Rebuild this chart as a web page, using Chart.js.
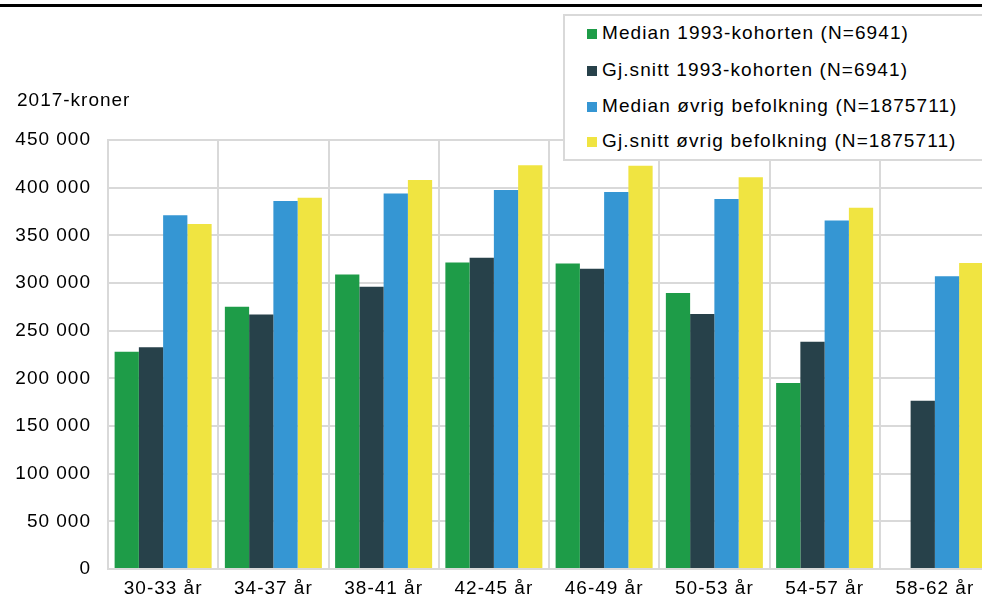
<!DOCTYPE html>
<html>
<head>
<meta charset="utf-8">
<script src="https://cdn.jsdelivr.net/npm/chart.js@4.4.0/dist/chart.umd.min.js"></script>
<style>
  html, body { margin: 0; padding: 0; background: #fff; overflow: hidden; }
  body { width: 982px; height: 607px; position: relative; font-family: "Liberation Sans", Arial, sans-serif; }
  #wrap { position: absolute; left: 0; top: 0; width: 1000px; height: 607px; }
  #topline { position: absolute; left: 0; top: 4px; width: 982px; height: 3px; background: #000; }
  #unit { position: absolute; left: 17px; top: 89px; font-size: 19px; color: #000; letter-spacing: 1px; }
  #legend { position: absolute; left: 563px; top: 14px; width: 440px; height: 143px;
            border: 2px solid #d9d9d9; background: #fff; }
  .item { position: absolute; left: 22px; height: 22px; line-height: 22px; font-size: 19px; color: #000;
          white-space: nowrap; letter-spacing: 1.1px; }
  .item span { display: inline-block; width: 10px; height: 10px; margin-right: 5px; vertical-align: 0px; }
</style>
</head>
<body>
<div id="wrap"><canvas id="plot" width="1000" height="607"></canvas></div>
<div id="topline"></div>
<div id="unit">2017-kroner</div>
<div id="legend"></div>
<script>
const categories = ['30-33 år', '34-37 år', '38-41 år', '42-45 år', '46-49 år', '50-53 år', '54-57 år', '58-62 år'];
const seriesNames = [
    'Median 1993-kohorten (N=6941)',
    'Gj.snitt 1993-kohorten (N=6941)',
    'Median øvrig befolkning (N=1875711)',
    'Gj.snitt øvrig befolkning (N=1875711)'
];
const medianKohort = [228000, 275000, 309000, 321500, 320500, 289500, 195000, null];
const snittKohort = [232500, 267000, 296000, 326500, 315000, 267500, 238500, 176500];
const medianOvrig = [371000, 386000, 394000, 397500, 395500, 388000, 365500, 307000];
const snittOvrig = [362000, 389500, 408000, 423500, 423000, 411000, 379000, 321000];
const colors = ['#1e9c48', '#27414a', '#3596d3', '#f0e441'];
const yTicks = [0, 50000, 100000, 150000, 200000, 250000, 300000, 350000, 400000, 450000];

const allSeries = [medianKohort, snittKohort, medianOvrig, snittOvrig];

// legend as html
const legend = document.getElementById('legend');
const rowTops = [6, 43, 79, 114];
seriesNames.forEach(function(name, i) {
    const div = document.createElement('div');
    div.className = 'item';
    div.style.top = rowTops[i] + 'px';
    div.innerHTML = '<span style="background:' + colors[i] + '"></span>' + name;
    legend.appendChild(div);
});

// the original text is a bit wider than Liberation Sans, so space the letters out
const spacing = {
    id: 'spacing',
    beforeLayout: function(chart) { chart.ctx.letterSpacing = '1px'; },
    beforeDraw: function(chart) { chart.ctx.letterSpacing = '1px'; }
};

const ctx = document.getElementById('plot').getContext('2d');
new Chart(ctx, {
    type: 'bar',
    data: {
        labels: categories,
        datasets: allSeries.map(function(values, i) {
            return {
                label: seriesNames[i],
                data: values,
                backgroundColor: colors[i],
                borderWidth: 0,
                categoryPercentage: 0.88,
                barPercentage: 1.0
            };
        })
    },
    options: {
        responsive: false,
        animation: false,
        layout: { padding: { top: 140, right: 10, left: 0, bottom: 0 } },
        plugins: {
            legend: { display: false },
            tooltip: { enabled: false }
        },
        scales: {
            x: {
                grid: { color: '#d9d9d9', lineWidth: 2, drawTicks: false, offset: true },
                border: { color: '#d9d9d9', width: 2 },
                ticks: {
                    color: '#000',
                    font: { family: '"Liberation Sans", Arial, sans-serif', size: 19 },
                    padding: 8,
                    maxRotation: 0
                },
                afterFit: function(scale) { scale.height = 38; }
            },
            y: {
                min: 0,
                max: 450000,
                afterBuildTicks: function(scale) {
                    scale.ticks = yTicks.map(function(v) { return { value: v }; });
                },
                grid: { color: '#d9d9d9', lineWidth: 2, drawTicks: false },
                border: { color: '#d9d9d9', width: 2 },
                ticks: {
                    color: '#000',
                    font: { family: '"Liberation Sans", Arial, sans-serif', size: 19 },
                    padding: 17,
                    callback: function(v) {
                        return String(v).replace(/\B(?=(\d{3})+(?!\d))/g, ' ');
                    }
                },
                afterFit: function(scale) { scale.width = 108; }
            }
        }
    },
    plugins: [spacing]
});
</script>
</body>
</html>
